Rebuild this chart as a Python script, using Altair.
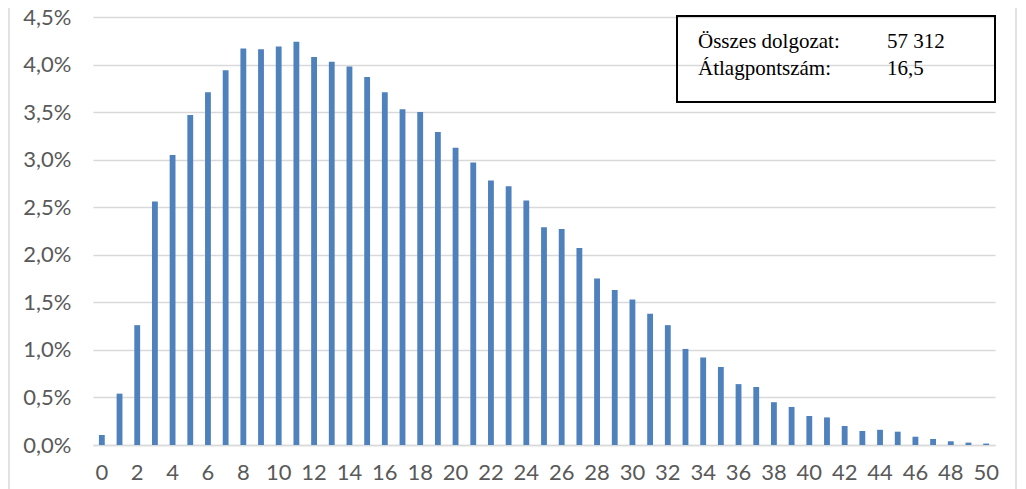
import altair as alt
import pandas as pd

points = list(range(0, 51))
share = [0.105, 0.54, 1.26, 2.56, 3.05, 3.47, 3.71, 3.94, 4.17, 4.16,
         4.19, 4.24, 4.08, 4.03, 3.98, 3.87, 3.71, 3.53, 3.50, 3.29,
         3.125, 2.97, 2.78, 2.72, 2.57, 2.29, 2.27, 2.07, 1.75, 1.63,
         1.53, 1.38, 1.26, 1.01, 0.92, 0.82, 0.64, 0.61, 0.45, 0.40,
         0.305, 0.29, 0.20, 0.147, 0.16, 0.14, 0.087, 0.063, 0.039, 0.025,
         0.015]
x_labels = list(range(0, 51, 2))
y_ticks = [i * 0.005 for i in range(10)]
box_labels = ["Összes dolgozat:", "Átlagpontszám:"]
box_values = ["57 312", "16,5"]

df = pd.DataFrame({"pont": points, "arany": [v / 100 for v in share]})
box_df = pd.DataFrame({"label": box_labels, "value": box_values, "row": [0, 1]})

W, H = 902, 428
LABEL_COLOR = "#595959"
FONT = "Lato"

bars = alt.Chart(df).mark_bar(color="#4f81bd").encode(
    x=alt.X("pont:O",
            scale=alt.Scale(paddingInner=0.67, paddingOuter=0.335),
            axis=alt.Axis(values=x_labels, labelAngle=0, title=None, ticks=False,
                          domain=True, domainColor="#d9d9d9", domainWidth=1.5,
                          labelColor=LABEL_COLOR, labelFont=FONT, labelFontSize=22,
                          labelPadding=17, grid=False)),
    y=alt.Y("arany:Q",
            scale=alt.Scale(domain=[0, 0.045], nice=False),
            axis=alt.Axis(values=y_ticks, title=None, ticks=False, domain=False,
                          labelExpr="replace(format(datum.value, '.1%'), '.', ',')",
                          gridColor="#d9d9d9", gridWidth=1.5,
                          labelColor=LABEL_COLOR, labelFont=FONT, labelFontSize=22,
                          labelPadding=22)),
)

box = alt.Chart(pd.DataFrame({"k": [0]})).mark_rect(
    fill=None, stroke="black", strokeWidth=2
).encode(x=alt.value(584), x2=alt.value(902), y=alt.value(-1), y2=alt.value(85))

row_scale = alt.Scale(domain=[0, 1], range=[31, 58])
lab = alt.Chart(box_df).mark_text(
    align="left", baseline="alphabetic", font="Liberation Serif", fontSize=21, color="black"
).encode(
    x=alt.value(605),
    y=alt.Y("row:Q", scale=row_scale, axis=None),
    text="label:N",
)
val = alt.Chart(box_df).mark_text(
    align="left", baseline="alphabetic", font="Liberation Serif", fontSize=21, color="black"
).encode(
    x=alt.value(794),
    y=alt.Y("row:Q", scale=row_scale, axis=None),
    text="value:N",
)

border = alt.Chart(pd.DataFrame({"k": [0]})).mark_rule(color="#d9d9d9", strokeWidth=1.5).encode(
    x=alt.value(-84), y=alt.value(-10), y2=alt.value(H + 50)
)
border_r = alt.Chart(pd.DataFrame({"k": [0]})).mark_rule(color="#d9d9d9", strokeWidth=1.5).encode(
    x=alt.value(W + 21), y=alt.value(-10), y2=alt.value(H + 50)
)

chart = alt.layer(bars, box, lab, val, border, border_r).resolve_scale(y="independent").properties(
    width=W, height=H,
    autosize=alt.AutoSizeParams(type="none"),
    padding={"left": 85, "top": 9, "right": 23, "bottom": 44},
).configure_view(stroke=None)

chart.save("out.html", embed_options={"renderer": "svg", "actions": False})
